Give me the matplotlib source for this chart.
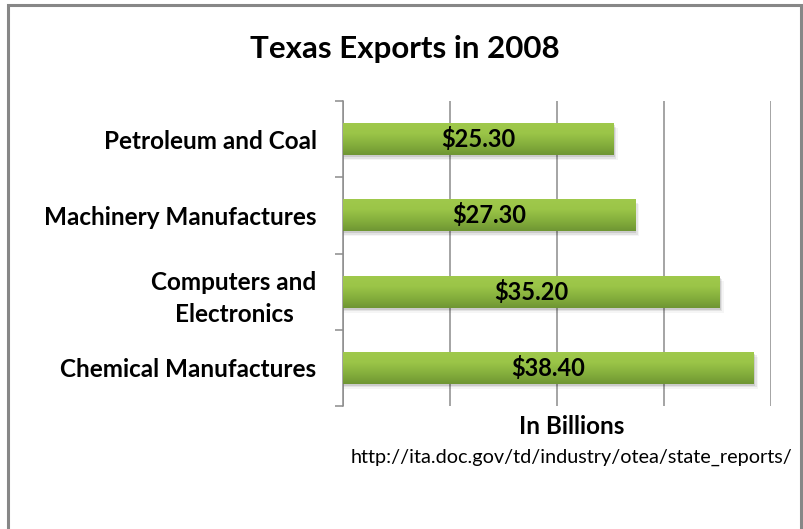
import matplotlib.pyplot as plt
import numpy as np
from matplotlib.patches import Rectangle

plt.rcParams['font.family'] = ['Lato', 'DejaVu Sans']

categories = ['Petroleum and Coal', 'Machinery Manufactures',
              'Computers and\nElectronics', 'Chemical Manufactures']
values = [25.3, 27.3, 35.2, 38.4]
value_labels = ['$25.30', '$27.30', '$35.20', '$38.40']

fig = plt.figure(figsize=(8.04, 5.29), dpi=100)
ax = fig.add_axes([343/804, 1-406/529, (771-343)/804, (406-101)/529])

# outer chart border
fig.patches.append(Rectangle((8/804, -0.05), (801-8)/804, 1-5/529+0.05,
                             transform=fig.transFigure, fill=False,
                             edgecolor='#878787', linewidth=2.2, zorder=10))

y = np.arange(len(categories))
bar_h = 0.42

# green gradient, light on top, darker at the bottom
grad = np.linspace(0, 1, 100).reshape(-1, 1)
cmap = plt.matplotlib.colors.LinearSegmentedColormap.from_list(
    'g', ['#a0c94c', '#9bc548', '#86b03d', '#6f9633'])

for yi, v, lab in zip(y, values, value_labels):
    # soft shadow
    for k, a in enumerate([0.10, 0.07, 0.04]):
        off = 0.025 + k*0.02
        ax.add_patch(Rectangle((0, yi - bar_h/2 + off), v + 0.1 + k*0.15, bar_h,
                               facecolor='black', alpha=a, edgecolor='none', zorder=2))
    bar = ax.barh(yi, v, height=bar_h, color='#8fbc44', zorder=3)[0]
    im = ax.imshow(grad, cmap=cmap, aspect='auto', zorder=4,
                   extent=[0, v, yi + bar_h/2, yi - bar_h/2])
    im.set_clip_path(bar)
    ax.text(v/2, yi, lab, ha='center', va='center', fontsize=17,
            fontweight='bold', color='black', zorder=5)

ax.set_xlim(0, 40)
ax.set_ylim(3.5, -0.5)
ax.set_xticks([0, 10, 20, 30, 40])
ax.set_xticklabels([])
ax.tick_params(axis='x', length=0)
ax.grid(axis='x', color='#8c8c8c', linewidth=1.1, zorder=0)
ax.set_axisbelow(True)

ax.set_yticks(y)
ax.set_yticklabels(categories, fontsize=17.5, fontweight='bold',
                   ha='right', multialignment='center', linespacing=1.5)
ax.tick_params(axis='y', which='major', length=0, pad=19)
ax.set_yticks([-0.5, 0.5, 1.5, 2.5, 3.5], minor=True)
ax.tick_params(axis='y', which='minor', length=6, color='#8c8c8c', width=1.1)

for s in ['top', 'right', 'bottom']:
    ax.spines[s].set_visible(False)
ax.spines['left'].set_color('#8c8c8c')
ax.spines['left'].set_linewidth(1.1)

fig.text(405/804, 1-49/529, 'Texas Exports in 2008', ha='center', va='center',
         fontsize=22.5, fontweight='bold')
fig.text(572/804, 1-427/529, 'In Billions', ha='center', va='center',
         fontsize=17.5, fontweight='bold')
fig.text(572/804, 1-457/529, 'http://ita.doc.gov/td/industry/otea/state_reports/',
         ha='center', va='center', fontsize=14.3)

fig.savefig('out.png', dpi=100)
